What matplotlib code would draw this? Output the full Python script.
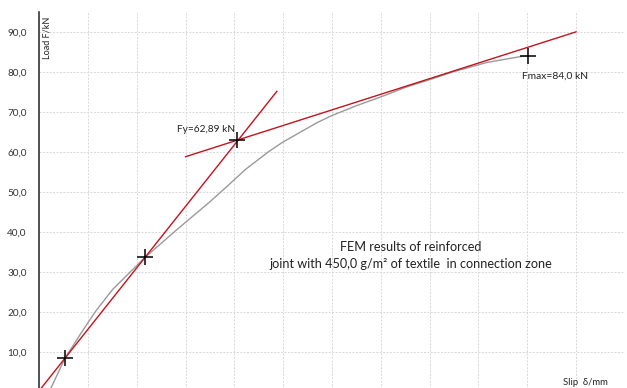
import matplotlib
matplotlib.use("Agg")
import matplotlib.pyplot as plt
import numpy as np

plt.rcParams['font.family'] = ['Lato', 'DejaVu Sans']

# Load-slip curve from the FEM model (slip in mm, load in kN)
slip = [0.20, 0.24, 0.53, 0.85, 1.15, 1.50, 1.87, 2.17, 2.82, 3.50, 3.91, 4.22,
        4.70, 4.98, 5.41, 5.70, 5.99, 6.50, 6.98, 7.53, 8.00, 8.49, 9.17, 9.85, 10.02]
load = [0.0, 0.9, 8.4, 14.5, 20.0, 25.5, 30.0, 33.6, 40.5, 47.5, 52.0, 55.5,
        60.0, 62.3, 65.3, 67.3, 69.0, 71.5, 73.6, 76.2, 78.0, 80.0, 82.3, 83.75, 84.0]

# Characteristic points: 0.1*Fmax, 0.4*Fmax, yield and maximum load
F10 = (0.53, 8.4)
F40 = (2.17, 33.6)
Fy = (4.06, 62.89)
Fmax = (10.02, 84.0)

# Extent of the two construction lines and slope of the post-yield line
line1_range = [0.0, 4.87]
line2_range = [3.0, 11.0]
line2_slope = 3.9

ytick_vals = [10, 20, 30, 40, 50, 60, 70, 80, 90]
ytick_labels = ["10,0", "20,0", "30,0", "40,0", "50,0", "60,0", "70,0", "80,0", "90,0"]

RED = "#C0141E"
TXT = "#222222"

fig = plt.figure(figsize=(6.27, 3.88), dpi=100)
ax = fig.add_axes([39.2 / 627, (388 - 391.7) / 388, (624.8 - 39.2) / 627, 380.0 / 388])
ax.set_xlim(0, 12)
ax.set_ylim(0, 95)

# grid
ax.set_xticks(np.arange(1, 13))
ax.set_yticks(ytick_vals)
ax.set_yticklabels(ytick_labels)
ax.grid(True, color="#d8d8d8", linestyle=(0, (2, 1.5)), linewidth=0.7)
ax.set_axisbelow(True)
ax.tick_params(axis="x", length=0, labelbottom=False)
ax.tick_params(axis="y", length=0, pad=9, labelsize=7.2, labelcolor="#333333")
for side in ("top", "right", "bottom"):
    ax.spines[side].set_visible(False)
ax.spines["left"].set_color("#222222")
ax.spines["left"].set_linewidth(1.1)

# FEM curve
ax.plot(slip, load, color="#9a9a9a", linewidth=1.0, zorder=2)

# initial stiffness line through 0.1 Fmax and 0.4 Fmax
k1 = (F40[1] - F10[1]) / (F40[0] - F10[0])
x1 = np.array(line1_range)
ax.plot(x1, F10[1] + k1 * (x1 - F10[0]), color=RED, linewidth=1.0, zorder=3)

# post-yield line through Fy
x2 = np.array(line2_range)
ax.plot(x2, Fy[1] + line2_slope * (x2 - Fy[0]), color=RED, linewidth=1.0, zorder=3)

# markers
for pt in (F10, F40, Fy, Fmax):
    ax.plot(pt[0], pt[1], marker="+", markersize=11, markeredgewidth=1.1,
            color="black", zorder=4)

ax.annotate("Fy=62,89 kN", xy=Fy, xytext=(-2, 11), textcoords="offset pixels",
            ha="right", va="center", fontsize=7.3, color=TXT)
ax.annotate("Fmax=84,0 kN", xy=Fmax, xytext=(-6, -20), textcoords="offset pixels",
            ha="left", va="center", fontsize=7.4, color=TXT)

ax.text(7.62, 36.2, "FEM results of reinforced", ha="center", va="center",
        fontsize=9.1, color=TXT)
ax.text(7.62, 32.0, "joint with 450,0 g/m² of textile  in connection zone",
        ha="center", va="center", fontsize=9.1, color=TXT)

ax.text(11.19, 2.2, "Slip  δ/mm", ha="center", va="center", fontsize=6.8,
        color=TXT)
fig.text(47 / 627, 1 - 38 / 388, "Load F/kN", rotation=90, ha="center",
         va="center", fontsize=6.5, color=TXT)

fig.savefig("out.png", dpi=100)
